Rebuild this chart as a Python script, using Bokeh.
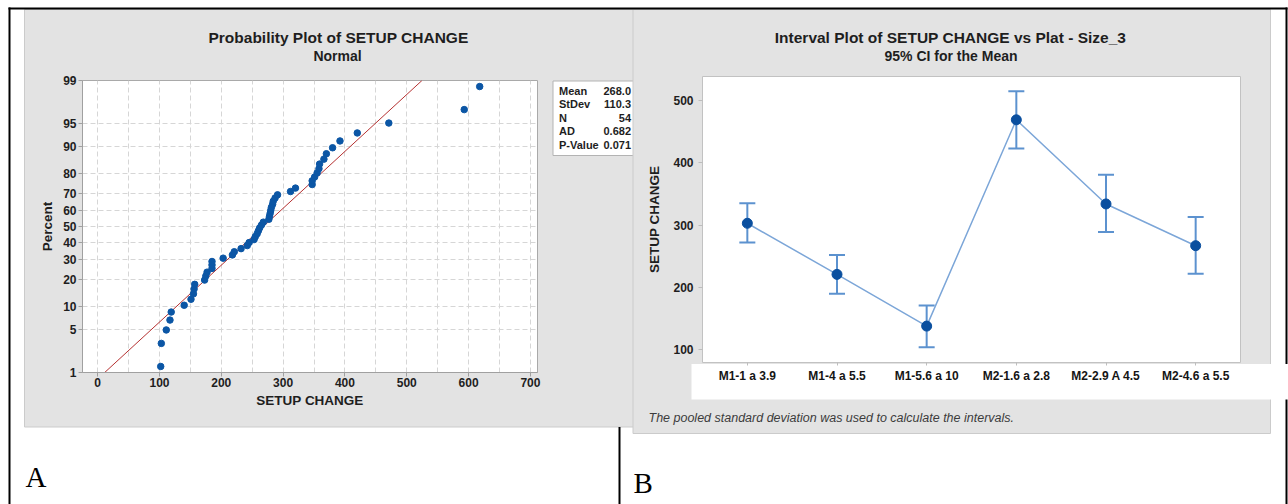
from statistics import NormalDist

from bokeh.core.properties import value
from bokeh.embed import file_html
from bokeh.models import (ColumnDataSource, FactorRange, FixedTicker, Range1d, TeeHead, Whisker)
from bokeh.plotting import figure
from bokeh.resources import INLINE

# ---------------- Panel A: normal probability plot ----------------
setup_change = [102, 103, 111, 117, 119, 140, 151, 155, 156, 157,
                173, 175, 177, 185, 185, 185, 203, 218, 221, 232,
                242, 245, 253, 255, 258, 260, 262, 265, 268, 277,
                278, 279, 280, 281, 283, 284, 287, 291, 312, 320,
                347, 347, 351, 355, 358, 359, 366, 370, 380, 392,
                420, 471, 593, 618]
stat_names = ["Mean", "StDev", "N", "AD", "P-Value"]
stat_values = ["268.0", "110.3", "54", "0.682", "0.071"]
fit_mean = 268.0
fit_stdev = 110.3
percent_ticks = [1, 5, 10, 20, 30, 40, 50, 60, 70, 80, 90, 95, 99]
x_ticks_a = [0, 100, 200, 300, 400, 500, 600, 700]
x_grid_a = [0, 50, 100, 150, 200, 250, 300, 350, 400, 450, 500, 550, 600, 650, 700]

# ---------------- Panel B: interval plot ----------------
plat_sizes = ["M1-1 a 3.9", "M1-4 a 5.5", "M1-5.6 a 10",
              "M2-1.6 a 2.8", "M2-2.9 A 4.5", "M2-4.6 a 5.5"]
group_mean = [303, 221, 138, 469, 334, 267]
ci_upper = [335, 252, 171, 515, 381, 313]
ci_lower = [272, 190, 104, 423, 289, 222]
y_ticks_b = [100, 200, 300, 400, 500]

SANS = "Liberation Sans"
SERIF = "Liberation Serif"
PANEL = "#e3e3e3"
PANEL_EDGE = "#cbcbcb"
INK = "#1e1e1e"
DOT = "#0b56a5"

nd = NormalDist()


def place(x, y):
    return {"position": "absolute", "left": f"{x}px", "top": f"{y}px"}


def style_axis(ax, label, tick_color, label_standoff, tick_standoff, tick_out=4):
    ax.axis_label = label
    ax.axis_label_text_font = SANS
    ax.axis_label_text_font_size = "13.5px"
    ax.axis_label_text_font_style = "bold"
    ax.axis_label_text_color = INK
    ax.axis_label_standoff = label_standoff
    ax.major_label_text_font = SANS
    ax.major_label_text_font_size = "12px"
    ax.major_label_text_font_style = "bold"
    ax.major_label_text_color = INK
    ax.major_label_standoff = tick_standoff
    ax.major_tick_out = tick_out
    ax.major_tick_in = 0
    ax.minor_tick_out = 0
    ax.minor_tick_in = 0
    ax.major_tick_line_color = tick_color
    ax.axis_line_color = tick_color


# ---------------- page sheet: panels, table rules, captions ----------------
sheet = figure(width=1288, height=504, x_range=Range1d(0, 1288), y_range=Range1d(504, 0),
               min_border=0, toolbar_location=None, output_backend="svg",
               x_axis_location=None, y_axis_location=None, outline_line_color=None,
               background_fill_color="white", border_fill_color="white",
               styles=place(0, 0))
sheet.grid.visible = False


def rect(x0, x1, y0, y1, fill="white", line=None):
    sheet.quad(left=x0, right=x1, top=y0, bottom=y1, fill_color=fill,
               line_color=line, line_width=1)


def words(xs, ys, texts, size, style="bold", align="left", font=SANS, color=INK,
          baseline="middle"):
    sheet.text(x=xs, y=ys, text=texts, text_font=value(font), text_font_size=value(f"{size}px"),
               text_font_style=style, text_align=align, text_baseline=baseline,
               text_color=color)


# panel A background
rect(24, 652, 9, 426.5, fill=PANEL, line=PANEL_EDGE)
words([338], [37], ["Probability Plot of SETUP CHANGE"], 15.5, align="center")
words([337], [55.5], ["Normal"], 14, align="center")
# statistics table of panel A
rect(552.5, 660, 80.5, 155, fill="white", line="#b3b3b3")
row_y = [90 + i * 13.65 for i in range(len(stat_names))]
words([558.5] * len(stat_names), row_y, stat_names, 11)
words([630.5] * len(stat_values), row_y, stat_values, 11, align="right")

# panel B background
rect(632.5, 1270, 9, 433, fill=PANEL, line=PANEL_EDGE)
words([950], [37], ["Interval Plot of SETUP CHANGE vs Plat - Size_3"], 15.5, align="center")
words([950.5], [55], ["95% CI for the Mean"], 14, align="center")
words([648], [417], ["The pooled standard deviation was used to calculate the intervals."],
      12.5, style="italic", color="#3c3c3c")
# white label strip under the interval plot
rect(691, 1288, 363.5, 399, fill="white")

# table rules
for x0, x1, y0, y1 in [(8, 1287, 7, 9), (8, 10, 7, 504), (618, 620, 426.5, 504),
                       (1285, 1287, 7, 363.5), (1285, 1287, 399, 504)]:
    rect(x0, x1, y0, y1, fill="black")
words([25, 633], [476, 482], ["A", "B"], 29, style="normal", font=SERIF, color="black",
      baseline="alphabetic")

# ---------------- probability plot ----------------
n = len(setup_change)
plot_pos = [(i + 1 - 0.3) / (n + 0.4) for i in range(n)]          # Benard median ranks
z_pos = [nd.inv_cdf(p) for p in plot_pos]
z_ticks = [nd.inv_cdf(p / 100) for p in percent_ticks]
z_lo, z_hi = z_ticks[0], z_ticks[-1]

pa = figure(width=632, height=504, x_range=Range1d(-24.5, 711.5), y_range=Range1d(z_lo, z_hi),
            min_border_left=82, min_border_right=95, min_border_top=80, min_border_bottom=132,
            toolbar_location=None, output_backend="svg",
            border_fill_color=None, background_fill_color="white",
            outline_line_color="#a9a9a9", styles=place(0, 0))

style_axis(pa.xaxis[0], "SETUP CHANGE", "#a0a0a0", 3, 1)
style_axis(pa.yaxis[0], "Percent", "#a0a0a0", 5, 2)
pa.xaxis[0].ticker = FixedTicker(ticks=x_ticks_a, minor_ticks=[])
pa.yaxis[0].ticker = FixedTicker(ticks=z_ticks, minor_ticks=[])
pa.yaxis[0].major_label_overrides = {z: str(p) for z, p in zip(z_ticks, percent_ticks)}

pa.xgrid[0].ticker = FixedTicker(ticks=x_grid_a, minor_ticks=[])
pa.ygrid[0].ticker = FixedTicker(ticks=z_ticks, minor_ticks=[])
for g in (pa.xgrid[0], pa.ygrid[0]):
    g.grid_line_color = "#d6d6d6"
    g.grid_line_dash = "5 3"
    g.grid_line_width = 1

# fitted normal line from the stated mean and standard deviation
pa.line(x=[fit_mean + fit_stdev * z_lo, fit_mean + fit_stdev * z_hi], y=[z_lo, z_hi],
        line_color="#b53131", line_width=1)
pa.scatter(x=setup_change, y=z_pos, size=6.5, fill_color=DOT, line_color=DOT)

# ---------------- interval plot ----------------
pb = figure(width=656, height=504, x_range=FactorRange(*plat_sizes), y_range=Range1d(79.6, 538.5),
            min_border_left=70, min_border_right=48, min_border_top=76, min_border_bottom=142,
            toolbar_location=None, output_backend="svg",
            border_fill_color=None, background_fill_color="white",
            outline_line_color="#c2c2c2", styles=place(632, 0))
pb.grid.visible = False
style_axis(pb.xaxis[0], "", "#bdbdbd", 3, 3, tick_out=3)
style_axis(pb.yaxis[0], "SETUP CHANGE", "#bdbdbd", 8, 5)
pb.yaxis[0].ticker = FixedTicker(ticks=y_ticks_b, minor_ticks=[])
pb.xaxis[0].axis_line_color = None
pb.yaxis[0].axis_line_color = None
pb.xaxis[0].major_label_text_color = "#151515"

src = ColumnDataSource(dict(plat=plat_sizes, mean=group_mean, upper=ci_upper, lower=ci_lower))
bar_color = "#5c92cf"
pb.add_layout(Whisker(source=src, base="plat", upper="upper", lower="lower", dimension="height",
                      line_color=bar_color, line_width=2,
                      upper_head=TeeHead(size=16, line_color=bar_color, line_width=2),
                      lower_head=TeeHead(size=16, line_color=bar_color, line_width=2)))
pb.line(x="plat", y="mean", source=src, line_color="#7ca6d8", line_width=1.5)
pb.scatter(x="plat", y="mean", source=src, size=10, fill_color="#0a4f9f", line_color="#0a4f9f")

open("out.html", "w").write(file_html([sheet, pa, pb], INLINE))
